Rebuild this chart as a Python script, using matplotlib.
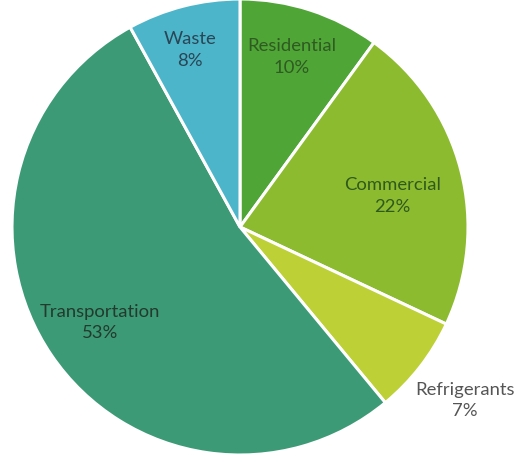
import matplotlib
matplotlib.use("Agg")
import matplotlib.pyplot as plt

categories = ["Residential", "Commercial", "Refrigerants", "Transportation", "Waste"]
values = [10, 22, 7, 53, 8]
colors = ["#4fa536", "#8dbb2f", "#bdd036", "#3c9a76", "#4cb5c9"]
text_colors = ["#2f5a22", "#2f5a1e", "#555555", "#233a2e", "#2a4555"]
# label positions (in pie data units, radius 1)
label_pos = [(0.228, 0.745), (0.67, 0.135), (0.987, -0.76), (-0.614, -0.42), (-0.22, 0.776)]

fig = plt.figure(figsize=(5.24, 4.54), dpi=100)
ax = fig.add_axes([12/524, -1/454, 456/524, 456/454])
wedges, _ = ax.pie(values, colors=colors, startangle=90, counterclock=False,
                   wedgeprops=dict(edgecolor="white", linewidth=2.2))
ax.set_xlim(-1, 1)
ax.set_ylim(-1, 1)
ax.set_aspect("equal")
for cat, v, (x, y), tc in zip(categories, values, label_pos, text_colors):
    ax.text(x, y, f"{cat}\n{v}%", ha="center", va="center", fontsize=13.3,
            family="Lato", color=tc, linespacing=1.42, clip_on=False)
fig.savefig("out.png", dpi=100)
